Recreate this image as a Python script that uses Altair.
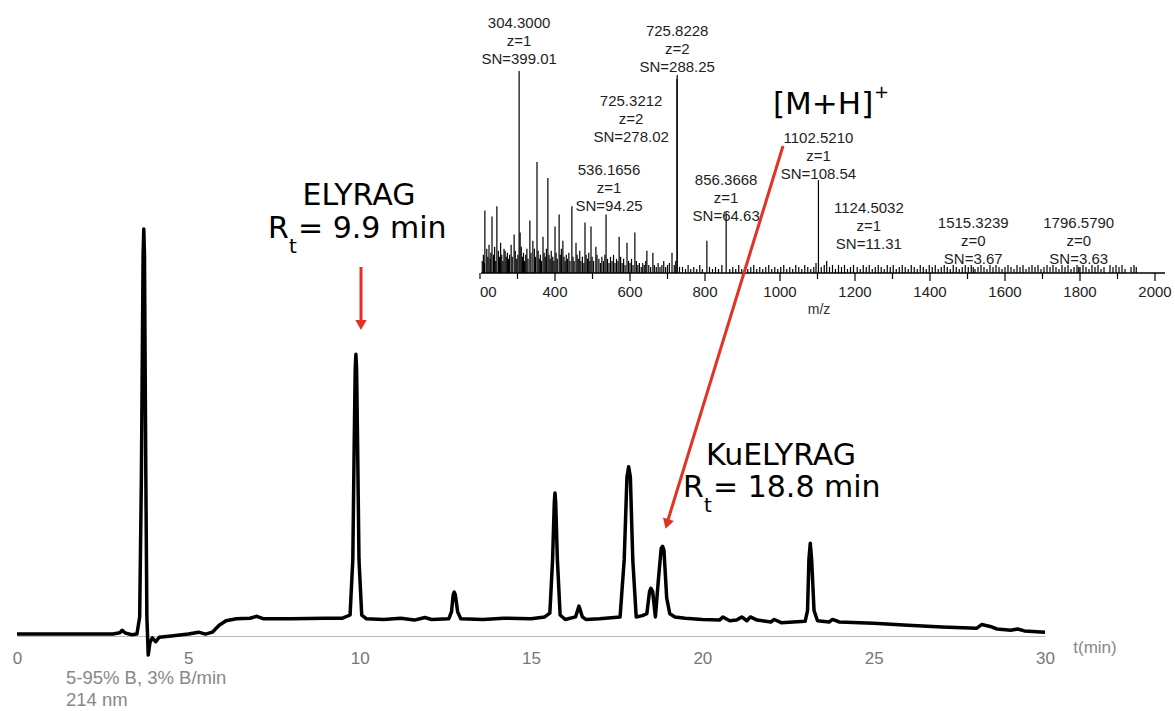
import altair as alt
import pandas as pd

# ---------------- HPLC chromatogram (214 nm) ----------------
t_min = [0.0, 2.8, 3.0, 3.07, 3.15, 3.35, 3.5, 3.58, 3.63, 3.68, 3.70, 3.72, 3.76, 3.79,
         3.83, 3.88, 3.95, 4.05, 4.15, 4.5, 5.0, 5.3, 5.5, 5.7, 5.9, 6.1, 6.4, 6.8, 7.0,
         7.2, 8.0, 9.0, 9.5, 9.72, 9.8, 9.84, 9.87, 9.89, 9.91, 9.94, 9.98, 10.06, 10.2,
         10.7, 11.2, 11.6, 11.9, 12.1, 12.6, 12.68, 12.73, 12.76, 12.79, 12.86, 12.95,
         13.6, 14.2, 15.0, 15.4, 15.55, 15.63, 15.68, 15.7, 15.72, 15.77, 15.85, 16.0,
         16.3, 16.4, 16.5, 16.6, 17.0, 17.6, 17.72, 17.8, 17.85, 17.9, 17.97, 18.07,
         18.25, 18.38, 18.46, 18.5, 18.55, 18.63, 18.72, 18.8, 18.84, 18.88, 18.96,
         19.05, 19.2, 19.5, 20.0, 20.5, 20.6, 20.8, 21.0, 21.15, 21.3, 21.4, 21.6,
         22.0, 22.1, 22.3, 23.0, 23.07, 23.11, 23.15, 23.19, 23.26, 23.36, 23.7, 23.8,
         24.0, 25.0, 26.0, 27.0, 28.0, 28.15, 28.4, 28.6, 29.0, 29.2, 29.4, 30.0]
absorb = [3, 3, 5, 9, 5, 2, 3, 30, 250, 600, 640, 600, 250, 30,
          -30, -10, -3, -9, -2, 0, 3, 6, 3, 6, 17, 24, 27, 28, 31,
          27, 27, 28, 28, 33, 120, 300, 420, 443, 420, 300, 120, 33, 27,
          26, 28, 25, 29, 26, 27, 38, 65, 69, 65, 38, 27,
          26, 28, 27, 30, 36, 120, 210, 225, 210, 120, 33, 26,
          30, 47, 30, 26, 27, 30, 120, 250, 266, 250, 120, 30,
          32, 35, 70, 75, 70, 30, 90, 138, 141, 135, 60,
          35, 30, 28, 26, 25, 30, 24, 25, 30, 24, 30, 25,
          22, 26, 21, 23, 40, 120, 146, 120, 40, 24, 22, 26,
          22, 20, 17, 14, 12, 18, 15, 11, 9, 11, 8, 6]

# ---------------- MS spectrum (inset) ----------------
peak_mz = [213, 232, 245, 267, 283, 291, 304.3, 307, 333, 341, 352, 368, 381, 400, 411,
           421, 445, 456, 480, 496, 509, 536.2, 571, 592, 613, 645, 661, 712, 725.3,
           725.8, 805, 856.4, 1102.5, 1124.5, 1515.3, 1796.6]
peak_int = [31, 28, 33, 11, 14, 19, 100, 20, 26, 16, 55, 18, 47, 23, 29,
            16, 33, 15, 25, 23, 13, 29, 18, 15, 20, 11, 10, 10, 96,
            98, 16, 30, 46, 6, 3, 3]
noise_mz = [206, 209, 212, 218, 221, 224, 227, 229, 236, 239, 242, 249, 252, 255, 258,
            261, 264, 270, 273, 276, 279, 286, 294, 298, 301, 310, 313, 316, 319, 322,
            325, 328, 336, 345, 348, 355, 358, 361, 364, 371, 374, 377, 384, 387, 390,
            394, 397, 403, 406, 414, 417, 424, 427, 430, 433, 437, 440, 448, 451, 459,
            462, 466, 469, 473, 477, 483, 487, 490, 493, 499, 503, 512, 517, 521, 525,
            529, 533, 540, 544, 548, 552, 556, 560, 564, 568, 575, 579, 583, 587, 596,
            600, 604, 608, 617, 621, 625, 630, 634, 638, 642, 650, 655, 665, 670, 675,
            680, 685, 690, 695, 700, 705, 718, 722, 732,
            740, 748, 755, 762, 770, 778, 786, 793, 812, 820, 828, 836, 845, 866, 874,
            882, 890, 898, 906, 914, 922, 930, 938, 946, 954, 962, 970, 978, 986, 994,
            1002, 1010, 1018, 1026, 1034, 1042, 1050, 1058, 1066, 1074, 1082, 1090, 1096,
            1110, 1118, 1132, 1140, 1148, 1156, 1164, 1172, 1180, 1188, 1196, 1206, 1214,
            1222, 1230, 1238, 1246, 1254, 1262, 1270, 1278, 1286, 1294, 1302, 1310, 1318,
            1326, 1334, 1342, 1350, 1358, 1366, 1374, 1382, 1390, 1398, 1406, 1414, 1422,
            1430, 1438, 1446, 1454, 1462, 1470, 1478, 1486, 1494, 1502, 1510, 1520, 1528,
            1536, 1544, 1552, 1560, 1568, 1576, 1584, 1592, 1600, 1608, 1616, 1624, 1632,
            1640, 1648, 1656, 1664, 1672, 1680, 1688, 1696, 1704, 1712, 1720, 1728, 1736,
            1744, 1752, 1760, 1768, 1776, 1784, 1792, 1800, 1808, 1816, 1824, 1832, 1840,
            1848, 1856, 1864, 1880, 1888, 1896, 1904, 1912, 1920, 1936, 1944, 1950]
noise_int = [6, 9, 5, 12, 8, 14, 7, 10, 9, 13, 6, 11, 8, 15, 9,
             6, 12, 8, 10, 7, 9, 8, 11, 7, 9, 13, 8, 10, 6, 9,
             12, 7, 10, 12, 8, 11, 7, 9, 6, 10, 8, 12, 9, 7, 11,
             8, 6, 10, 7, 9, 12, 8, 6, 9, 7, 10, 6, 8, 6, 9,
             7, 11, 6, 8, 5, 9, 7, 10, 6, 8, 6, 9, 7, 5, 8,
             6, 9, 7, 5, 8, 6, 9, 5, 7, 6, 8, 5, 7, 4, 6,
             5, 7, 4, 6, 4, 5, 3, 5, 4, 6, 4, 3, 4, 3, 5,
             3, 4, 6, 3, 4, 5, 4, 6, 3,
             3, 2, 4, 2, 3, 2, 4, 2, 3, 2, 3, 2, 4, 2, 3,
             2, 4, 2, 3, 2, 3, 4, 2, 3, 2, 3, 4, 2, 3, 2,
             3, 4, 2, 3, 2, 4, 3, 2, 4, 3, 2, 3, 5,
             3, 4, 3, 4, 2, 4, 3, 4, 2, 3, 4, 3, 2,
             4, 3, 4, 2, 3, 4, 3, 2, 4, 3, 4, 2, 3,
             4, 3, 2, 4, 3, 2, 4, 3, 2, 4, 3, 4, 2,
             3, 4, 3, 2, 4, 3, 2, 3, 4, 3, 4, 2, 3,
             4, 3, 2, 4, 3, 4, 3, 2, 3, 4, 3, 2, 4,
             3, 4, 2, 3, 4, 3, 4, 2, 3, 4, 3, 4, 3,
             2, 4, 3, 4, 2, 3, 4, 3, 4, 3, 2, 4, 3,
             4, 2, 3, 4, 3, 4, 3, 4, 2, 3, 4, 3]

# annotated MS peaks
lab_mz = [304.3000, 725.8228, 725.3212, 536.1656, 856.3668, 1102.5210, 1124.5032, 1515.3239, 1796.5790]
lab_z = [1, 2, 2, 1, 1, 1, 1, 0, 0]
lab_sn = [399.01, 288.25, 278.02, 94.25, 64.63, 108.54, 11.31, 3.67, 3.63]
lab_at_mz = [304.3, 725.8, 603, 544, 856.4, 1102.5, 1237, 1515.3, 1796.6]
lab_at_int = [124, 120, 85, 51, 46, 67, 32, 25, 25]

ms_ticks_major = [400, 600, 800, 1000, 1200, 1400, 1600, 1800, 2000]
ms_ticks_minor = [200, 300, 500, 700, 900, 1100, 1300, 1500, 1700, 1900]
t_ticks = [0, 5, 10, 15, 20, 25, 30]

# ---------------- tables ----------------
chrom = pd.DataFrame({"t": t_min, "a": absorb})
ms = pd.DataFrame({"mz": peak_mz + noise_mz, "i": peak_int + noise_int})
ms["base"] = 0
labs = pd.DataFrame({
    "mz": lab_at_mz, "i": lab_at_int,
    "l1": [f"{m:.4f}" for m in lab_mz],
    "l2": [f"z={z}" for z in lab_z],
    "l3": [f"SN={s:.2f}" for s in lab_sn],
})
tick_major = pd.DataFrame({"mz": ms_ticks_major, "lab": [str(v) for v in ms_ticks_major]})
tick_minor = pd.DataFrame({"mz": ms_ticks_minor})
one = pd.DataFrame({"k": [0]})

RED = "#e23322"
ANN_FONT = "DejaVu Sans"
SMALL_FONT = "Liberation Sans"

# ---------------- main chromatogram ----------------
X = alt.X("t:Q", scale=alt.Scale(domain=[0, 30]),
          axis=alt.Axis(values=t_ticks, grid=False, ticks=False, tickSize=0,
                        labelPadding=14, labelFlush=False, labelFontSize=17,
                        labelColor="#777777", labelFont=SMALL_FONT,
                        domainColor="#bbbbbb", domainWidth=1, title=None))
Y = alt.Y("a:Q", scale=alt.Scale(domain=[0, 1000]), axis=None)

line = alt.Chart(chrom).mark_line(color="black", strokeWidth=3.5, strokeJoin="round",
                                  clip=False).encode(x=X, y=Y)

# ---------------- inset spectrum ----------------
IX = alt.X("mz:Q", scale=alt.Scale(domain=[200, 2000], range=[463, 1138]), axis=None)
IY = alt.Y("i:Q", scale=alt.Scale(domain=[0, 100], range=[273, 71]), axis=None)

sticks = alt.Chart(ms).mark_rule(color="black", strokeWidth=1.2).encode(
    x=IX, y=IY, y2="base:Q")

ms_axis = alt.Chart(one).mark_rule(color="black", strokeWidth=1.3).encode(
    x=alt.value(464), x2=alt.value(1148), y=alt.value(273))
ms_major = alt.Chart(tick_major).mark_rule(color="black", strokeWidth=1.2).encode(
    x=IX, y=alt.value(273), y2=alt.value(281))
ms_minor = alt.Chart(tick_minor).mark_rule(color="black", strokeWidth=1.2).encode(
    x=IX, y=alt.value(273), y2=alt.value(279))
ms_lab = alt.Chart(tick_major).mark_text(fontSize=15, font=SMALL_FONT, color="#222222",
                                         baseline="middle").encode(
    x=IX, y=alt.value(292), text="lab:N")
ms_lab0 = alt.Chart(one).mark_text(fontSize=15, font=SMALL_FONT, color="#222222",
                                   baseline="middle", align="left", text="00").encode(
    x=alt.value(463), y=alt.value(292))
ms_title = alt.Chart(one).mark_text(fontSize=14, font=SMALL_FONT, color="#333333",
                                    baseline="middle", text="m/z").encode(
    x=alt.value(802), y=alt.value(310))

lab_layers = []
for col, dy in (("l1", 0), ("l2", 18), ("l3", 36)):
    lab_layers.append(
        alt.Chart(labs).mark_text(fontSize=15, font=SMALL_FONT, color="#1e1e1e",
                                  baseline="middle", dy=dy).encode(
            x=IX, y=IY, text=f"{col}:N"))


def txt(s, x, y, size, color="black", align="left", font=ANN_FONT, baseline="alphabetic"):
    return alt.Chart(one).mark_text(text=s, fontSize=size, font=font, color=color,
                                    align=align, baseline=baseline).encode(
        x=alt.value(x), y=alt.value(y))


ann = [
    txt("ELYRAG", 342, 205, 30, align="center"),
    txt("R", 251, 238, 30),
    txt("t", 272, 253, 20),
    txt("= 9.9 min", 281, 238, 30),
    txt("KuELYRAG", 764, 465, 30, align="center"),
    txt("R", 666, 497, 30),
    txt("t", 687, 512, 20),
    txt("= 18.8 min", 696, 497, 30),
    txt("[M+H]", 756, 114, 31),
    txt("+", 857, 98, 18),
    txt("t(min)", 1078, 648, 17, color="#888888", align="center", font=SMALL_FONT,
        baseline="middle"),
    txt("5-95% B, 3% B/min", 49, 678, 18.5, color="#888888", font=SMALL_FONT, baseline="middle"),
    txt("214 nm", 49, 700, 18.5, color="#888888", font=SMALL_FONT, baseline="middle"),
]

# red arrows
arrow1 = alt.Chart(one).mark_rule(color=RED, strokeWidth=3).encode(
    x=alt.value(344), y=alt.value(267), y2=alt.value(322))
head1 = alt.Chart(one).mark_point(shape="triangle-down", filled=True, size=130, color=RED,
                                  opacity=1).encode(x=alt.value(344), y=alt.value(325))
arrow2 = alt.Chart(one).mark_rule(color=RED, strokeWidth=3).encode(
    x=alt.value(766), y=alt.value(146), x2=alt.value(651), y2=alt.value(520))
head2 = alt.Chart(one).mark_point(shape="triangle-down", filled=True, size=130, color=RED,
                                  opacity=1, angle=17).encode(x=alt.value(650), y=alt.value(524))

chart = alt.layer(
    line, sticks, ms_axis, ms_major, ms_minor, ms_lab, ms_lab0, ms_title,
    *lab_layers, *ann, arrow1, head1, arrow2, head2
).resolve_scale(x="independent", y="independent").properties(
    width=1028, height=636,
    autosize=alt.AutoSizeParams(type="none"),
    padding={"left": 17, "top": 0, "right": 130, "bottom": 75},
    background="white",
).configure_view(stroke=None)

chart.save("out.html", embed_options={"renderer": "svg", "actions": False})
